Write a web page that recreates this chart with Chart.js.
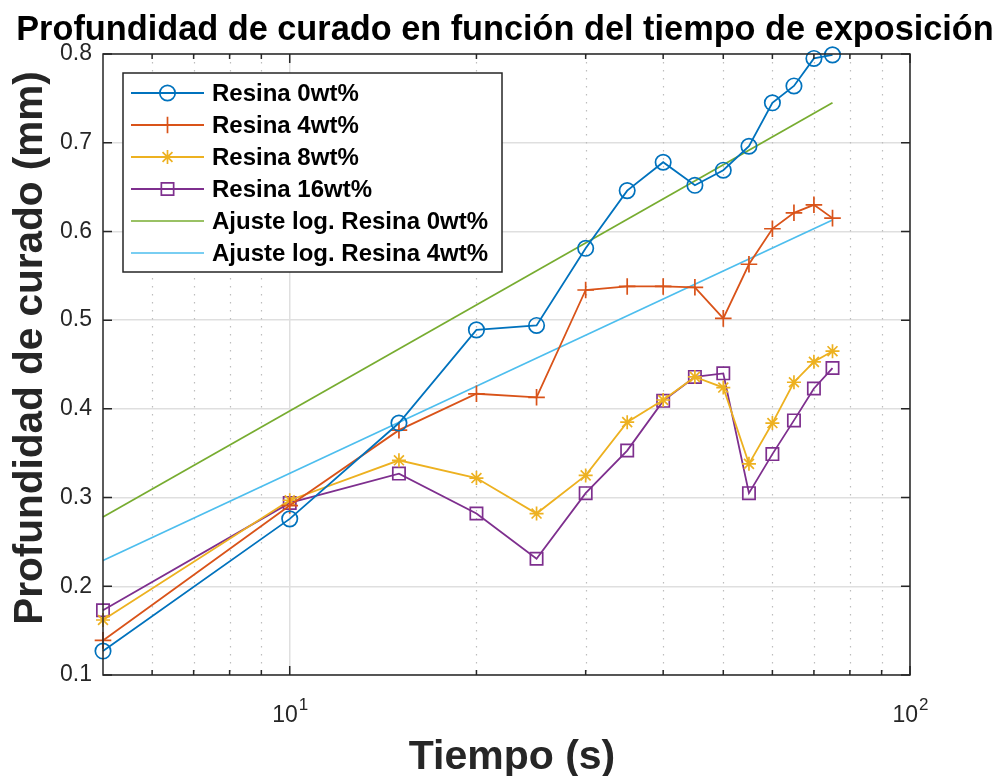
<!DOCTYPE html>
<html>
<head>
<meta charset="utf-8">
<title>Profundidad de curado</title>
<script src="https://cdn.jsdelivr.net/npm/chart.js@4.4.0/dist/chart.umd.min.js"></script>
<style>
  html, body { margin: 0; padding: 0; background: #fff; }
  canvas { display: block; }
</style>
</head>
<body>
<canvas id="curado" width="1001" height="776"></canvas>
<script>
// ----------------------------
// Datos
// ----------------------------
const tiempos = [5, 10, 15, 20, 25, 30, 35, 40, 45, 50, 55, 60, 65, 70, 75];
const resina0 = [0.127, 0.276, 0.384, 0.489, 0.494, 0.581, 0.646, 0.678, 0.652, 0.669, 0.696, 0.745, 0.764, 0.795, 0.799];
const resina4 = [0.139, 0.291, 0.376, 0.417, 0.413, 0.534, 0.538, 0.538, 0.537, 0.502, 0.563, 0.603, 0.621, 0.630, 0.615];
const resina8 = [0.162, 0.297, 0.342, 0.322, 0.282, 0.325, 0.385, 0.410, 0.436, 0.424, 0.338, 0.384, 0.430, 0.453, 0.465];
const resina16 = [0.173, 0.294, 0.327, 0.282, 0.231, 0.305, 0.353, 0.409, 0.436, 0.440, 0.305, 0.349, 0.387, 0.423, 0.446];

const ajusteTiempos = [5, 75];
const ajuste0 = [0.278, 0.745];
const ajuste4 = [0.229, 0.613];

const etiquetas = ['Resina 0wt%', 'Resina 4wt%', 'Resina 8wt%', 'Resina 16wt%',
                   'Ajuste log. Resina 0wt%', 'Ajuste log. Resina 4wt%'];

const xMayores = [10, 100];
const xMenores = [6, 7, 8, 9, 20, 30, 40, 50, 60, 70, 80, 90];
const yTicks = [0.1, 0.2, 0.3, 0.4, 0.5, 0.6, 0.7, 0.8];

const titulo = 'Profundidad de curado en función del tiempo de exposición';
const tituloX = 'Tiempo (s)';
const tituloY = 'Profundidad de curado (mm)';

// ----------------------------
// Estilos
// ----------------------------
const FUENTE = '"Liberation Sans", Arial, Helvetica, sans-serif';
const EJE = '#262626';
const REJILLA = '#dfdfdf';

function pares(xs, ys) {
    return xs.map((x, i) => ({ x: x, y: ys[i] }));
}

function serie(label, xs, ys, color, estilo, r) {
    return {
        label: label,
        data: pares(xs, ys),
        borderColor: color,
        backgroundColor: 'rgba(0,0,0,0)',
        borderWidth: 1.8,
        pointStyle: estilo,
        pointRadius: r,
        pointHoverRadius: r,
        pointBorderWidth: 1.7,
        pointBorderColor: color,
        pointBackgroundColor: 'rgba(0,0,0,0)',
        tension: 0,
        clip: false
    };
}

// marcador para la leyenda (mismo dibujo que Chart.js)
function marcador(ctx, estilo, x, y, r) {
    ctx.beginPath();
    if (estilo === 'circle') {
        ctx.arc(x, y, r, 0, Math.PI * 2);
    } else if (estilo === 'rect') {
        const s = r * Math.SQRT1_2;
        ctx.rect(x - s, y - s, 2 * s, 2 * s);
    } else if (estilo === 'cross' || estilo === 'star') {
        ctx.moveTo(x - r, y); ctx.lineTo(x + r, y);
        ctx.moveTo(x, y - r); ctx.lineTo(x, y + r);
        if (estilo === 'star') {
            const d = r * Math.SQRT1_2;
            ctx.moveTo(x - d, y - d); ctx.lineTo(x + d, y + d);
            ctx.moveTo(x - d, y + d); ctx.lineTo(x + d, y - d);
        }
    }
    ctx.stroke();
}

// ----------------------------
// Plugin: rejilla menor, caja, ticks, textos y leyenda
// ----------------------------
const decoracion = {
    id: 'decoracion',
    beforeDatasetsDraw(chart) {
        const ctx = chart.ctx;
        const a = chart.chartArea;
        const sx = chart.scales.x;
        ctx.save();
        ctx.strokeStyle = '#bdbdbd';
        ctx.lineWidth = 1.2;
        ctx.setLineDash([1.5, 6.5]);
        xMenores.forEach(v => {
            const px = Math.round(sx.getPixelForValue(v)) + 0.5;
            ctx.beginPath();
            ctx.moveTo(px, a.top);
            ctx.lineTo(px, a.bottom);
            ctx.stroke();
        });
        ctx.restore();
    },
    afterDraw(chart) {
        const ctx = chart.ctx;
        const a = chart.chartArea;
        const sx = chart.scales.x;
        const sy = chart.scales.y;
        ctx.save();

        // caja de ejes
        ctx.strokeStyle = EJE;
        ctx.lineWidth = 1.5;
        ctx.strokeRect(a.left, a.top, a.right - a.left, a.bottom - a.top);

        // ticks hacia dentro
        ctx.beginPath();
        yTicks.forEach(v => {
            const py = sy.getPixelForValue(v);
            ctx.moveTo(a.left, py); ctx.lineTo(a.left + 9, py);
            ctx.moveTo(a.right, py); ctx.lineTo(a.right - 9, py);
        });
        xMayores.forEach(v => {
            const px = sx.getPixelForValue(v);
            ctx.moveTo(px, a.bottom); ctx.lineTo(px, a.bottom - 9);
            ctx.moveTo(px, a.top); ctx.lineTo(px, a.top + 9);
        });
        xMenores.forEach(v => {
            const px = sx.getPixelForValue(v);
            ctx.moveTo(px, a.bottom); ctx.lineTo(px, a.bottom - 5);
            ctx.moveTo(px, a.top); ctx.lineTo(px, a.top + 5);
        });
        ctx.stroke();

        // etiquetas 10^n
        ctx.fillStyle = EJE;
        ctx.textBaseline = 'alphabetic';
        ctx.textAlign = 'left';
        xMayores.forEach(v => {
            const px = sx.getPixelForValue(v);
            const exp = String(Math.round(Math.log10(v)));
            ctx.font = '23px ' + FUENTE;
            const wb = ctx.measureText('10').width;
            ctx.font = '17px ' + FUENTE;
            const we = ctx.measureText(exp).width;
            const x0 = px - (wb + we) / 2;
            ctx.font = '23px ' + FUENTE;
            ctx.fillText('10', x0, a.bottom + 47);
            ctx.font = '17px ' + FUENTE;
            ctx.fillText(exp, x0 + wb + 1, a.bottom + 35);
        });

        // titulo
        ctx.fillStyle = '#000';
        ctx.textAlign = 'center';
        ctx.font = 'bold 34.3px ' + FUENTE;
        ctx.fillText(titulo, 505, 40);

        // titulos de ejes
        ctx.fillStyle = EJE;
        ctx.font = 'bold 41px ' + FUENTE;
        ctx.fillText(tituloX, 512, 769);
        ctx.save();
        ctx.translate(42, 348);
        ctx.rotate(-Math.PI / 2);
        ctx.font = 'bold 40.5px ' + FUENTE;
        ctx.fillText(tituloY, 0, 0);
        ctx.restore();

        // leyenda
        const lx = 123, ly = 73, lw = 379, lh = 199;
        ctx.fillStyle = '#fff';
        ctx.fillRect(lx, ly, lw, lh);
        ctx.strokeStyle = EJE;
        ctx.lineWidth = 1.5;
        ctx.strokeRect(lx, ly, lw, lh);
        ctx.textAlign = 'left';
        ctx.textBaseline = 'middle';
        ctx.font = 'bold 24px ' + FUENTE;
        chart.data.datasets.forEach((ds, i) => {
            const yy = ly + 20 + i * 32;
            ctx.strokeStyle = ds.borderColor;
            ctx.lineWidth = ds.borderWidth;
            ctx.beginPath();
            ctx.moveTo(131, yy);
            ctx.lineTo(204, yy);
            ctx.stroke();
            if (ds.pointRadius > 0) {
                ctx.lineWidth = ds.pointBorderWidth;
                marcador(ctx, ds.pointStyle, 167.5, yy, ds.pointRadius);
            }
            ctx.fillStyle = '#000';
            ctx.fillText(ds.label, 212, yy + 1);
        });

        ctx.restore();
    }
};

// ----------------------------
// Grafica
// ----------------------------
const ajusteVerde = serie(etiquetas[4], ajusteTiempos, ajuste0, '#77AC30', 'circle', 0);
const ajusteCeleste = serie(etiquetas[5], ajusteTiempos, ajuste4, '#4DBEEE', 'circle', 0);
ajusteVerde.borderWidth = 1.7;
ajusteCeleste.borderWidth = 1.7;

new Chart(document.getElementById('curado'), {
    type: 'line',
    data: {
        datasets: [
            serie(etiquetas[0], tiempos, resina0, '#0072BD', 'circle', 7.7),
            serie(etiquetas[1], tiempos, resina4, '#D95319', 'cross', 8.3),
            serie(etiquetas[2], tiempos, resina8, '#EDB120', 'star', 7),
            serie(etiquetas[3], tiempos, resina16, '#7E2F8E', 'rect', 8.7),
            ajusteVerde,
            ajusteCeleste
        ]
    },
    options: {
        responsive: false,
        animation: false,
        devicePixelRatio: 1,
        layout: { padding: { top: 54, right: 91, left: 0, bottom: 0 } },
        plugins: {
            legend: { display: false },
            title: { display: false },
            tooltip: { enabled: false }
        },
        scales: {
            x: {
                type: 'logarithmic',
                min: 5,
                max: 100,
                afterBuildTicks: s => { s.ticks = xMayores.map(v => ({ value: v })); },
                afterFit: s => { s.height = 101; },
                ticks: { display: false },
                grid: { color: REJILLA, lineWidth: 1.5, drawTicks: false },
                border: { display: false }
            },
            y: {
                type: 'linear',
                min: 0.1,
                max: 0.8,
                afterBuildTicks: s => { s.ticks = yTicks.map(v => ({ value: v })); },
                afterFit: s => { s.width = 103; },
                ticks: {
                    color: EJE,
                    padding: 11,
                    font: { family: FUENTE, size: 23 },
                    callback: v => Number(v).toFixed(1)
                },
                grid: { color: REJILLA, lineWidth: 1.5, drawTicks: false },
                border: { display: false }
            }
        }
    },
    plugins: [decoracion]
});
</script>
</body>
</html>
